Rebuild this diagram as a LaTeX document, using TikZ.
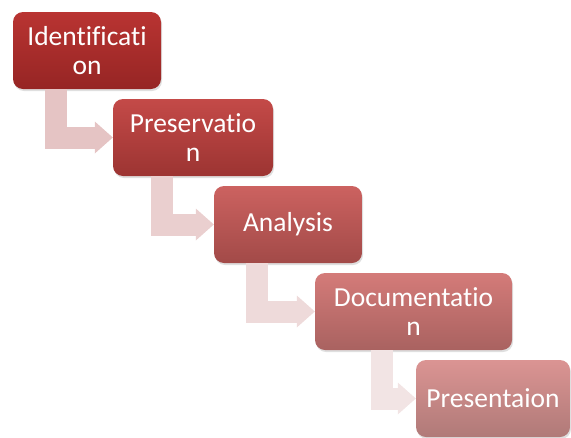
\documentclass[tikz,border=0pt]{standalone}
\usepackage{fontspec}
\setmainfont{Carlito}[Ligatures=NoCommon]
\usetikzlibrary{arrows.meta,shadows}

\definecolor{redA}{HTML}{B93432}
\definecolor{redAd}{HTML}{962524}
\definecolor{redB}{HTML}{C44A48}
\definecolor{redBd}{HTML}{9C3432}
\definecolor{redC}{HTML}{CC6260}
\definecolor{redCd}{HTML}{A24A48}
\definecolor{redD}{HTML}{D47B79}
\definecolor{redDd}{HTML}{A96260}
\definecolor{redE}{HTML}{DB9493}
\definecolor{redEd}{HTML}{B07A78}
\definecolor{pinkA}{HTML}{E5C4C4}
\definecolor{pinkB}{HTML}{EACFCF}
\definecolor{pinkC}{HTML}{EEDADA}
\definecolor{pinkD}{HTML}{F2E4E4}

\begin{document}
\begin{tikzpicture}[x=1pt, y=-1pt,
    stage/.style = {rounded corners=10pt, minimum height=77pt, inner sep=0pt, align=center,
        text=white, font=\fontsize{27.5}{29}\selectfont,
        drop shadow={opacity=0.25, shadow xshift=1pt, shadow yshift=-2pt}},
    flow/.style = {line width=22pt, line join=miter, -{Triangle[length=18pt,width=32pt,line width=0pt]}}]
    \useasboundingbox (0,0) rectangle (571,437);

    \node[stage, minimum width=148pt, top color=redA, bottom color=redAd] (ident) at (87,50.5) {Identificati\\on};
    \node[stage, minimum width=160pt, top color=redB, bottom color=redBd] (preserv) at (193,137.5) {Preservatio\\n};
    \node[stage, minimum width=148pt, top color=redC, bottom color=redCd] (anal) at (288,224.5) {Analysis};
    \node[stage, minimum width=197pt, top color=redD, bottom color=redDd] (docu) at (413.5,311.5) {Documentatio\\n};
    \node[stage, minimum width=154pt, top color=redE, bottom color=redEd] (present) at (493,398.5) {Presentaion};

    % bent arrows between the stages
    \draw[flow, pinkA] ([xshift=43pt]ident.south west) |- (preserv.west);
    \draw[flow, pinkB] ([xshift=49.5pt]preserv.south west) |- (anal.west);
    \draw[flow, pinkC] ([xshift=43.5pt]anal.south west) |- (docu.west);
    \draw[flow, pinkD] ([xshift=67.5pt]docu.south west) |- (present.west);
\end{tikzpicture}
\end{document}
